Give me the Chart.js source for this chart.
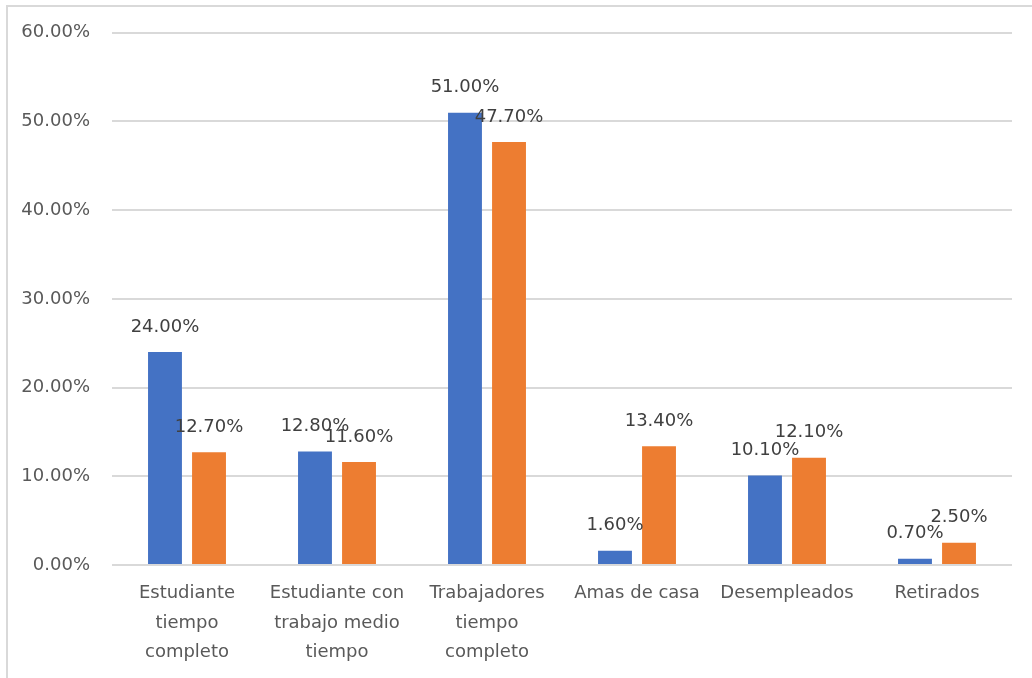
<!DOCTYPE html>
<html>
<head>
<meta charset="utf-8">
<script src="https://cdn.jsdelivr.net/npm/chart.js@4"></script>
<style>
  html, body { margin: 0; padding: 0; background: #fff; overflow: hidden; }
  #frame { position: absolute; left: 6px; top: 5px; width: 1060px; height: 700px;
           border-left: 2px solid #d9d9d9; border-top: 2px solid #d9d9d9; }
  #wrap { position: absolute; left: 0; top: 0; width: 1032px; height: 678px; }
</style>
</head>
<body>
<div id="frame"></div>
<div id="wrap"><canvas id="myChart" width="1032" height="678"></canvas></div>
<script>
const categorias = [
  ['Estudiante', 'tiempo', 'completo'],
  ['Estudiante con', 'trabajo medio', 'tiempo'],
  ['Trabajadores', 'tiempo', 'completo'],
  'Amas de casa',
  'Desempleados',
  'Retirados'
]
const serieAzul = [24.0, 12.8, 51.0, 1.6, 10.1, 0.7]
const serieNaranja = [12.7, 11.6, 47.7, 13.4, 12.1, 2.5]
const ejeMax = 60
const ejePaso = 10

const fuente = 'DejaVu Sans'

// etiquetas de valor encima de cada barra
const etiquetas = {
  id: 'etiquetas',
  afterDatasetsDraw(chart) {
    const ctx = chart.ctx
    ctx.save()
    ctx.font = '18px "' + fuente + '"'
    ctx.fillStyle = '#404040'
    ctx.textAlign = 'center'
    ctx.textBaseline = 'middle'
    chart.data.datasets.forEach((ds, i) => {
      chart.getDatasetMeta(i).data.forEach((bar, j) => {
        ctx.fillText(ds.data[j].toFixed(2) + '%', bar.x, bar.y - 25)
      })
    })
    ctx.restore()
  }
}

const ctx = document.getElementById('myChart').getContext('2d')
const myChart = new Chart(ctx, {
  type: 'bar',
  data: {
    labels: categorias,
    datasets: [{
      label: 'Serie 1',
      data: serieAzul,
      backgroundColor: '#4472C4',
      categoryPercentage: 0.587,
      barPercentage: 0.77
    }, {
      label: 'Serie 2',
      data: serieNaranja,
      backgroundColor: '#ED7D31',
      categoryPercentage: 0.587,
      barPercentage: 0.77
    }]
  },
  plugins: [etiquetas],
  options: {
    responsive: false,
    animation: false,
    layout: { padding: { left: 0, right: 20, top: 32, bottom: 0 } },
    plugins: {
      legend: { display: false },
      tooltip: { enabled: false }
    },
    scales: {
      x: {
        grid: { display: false, drawTicks: false },
        border: { display: false },
        ticks: {
          color: '#595959',
          padding: 14,
          maxRotation: 0,
          autoSkip: false,
          font: { family: fuente, size: 18, lineHeight: 1.64 }
        },
        afterFit(scale) { scale.height = 113 }
      },
      y: {
        min: 0,
        max: ejeMax,
        grid: { color: '#d9d9d9', lineWidth: 2, drawTicks: false },
        border: { display: false },
        ticks: {
          stepSize: ejePaso,
          color: '#595959',
          padding: 22,
          font: { family: fuente, size: 18 },
          callback: v => v.toFixed(2) + '%'
        },
        afterFit(scale) { scale.width = 112 }
      }
    }
  }
})
</script>
</body>
</html>
